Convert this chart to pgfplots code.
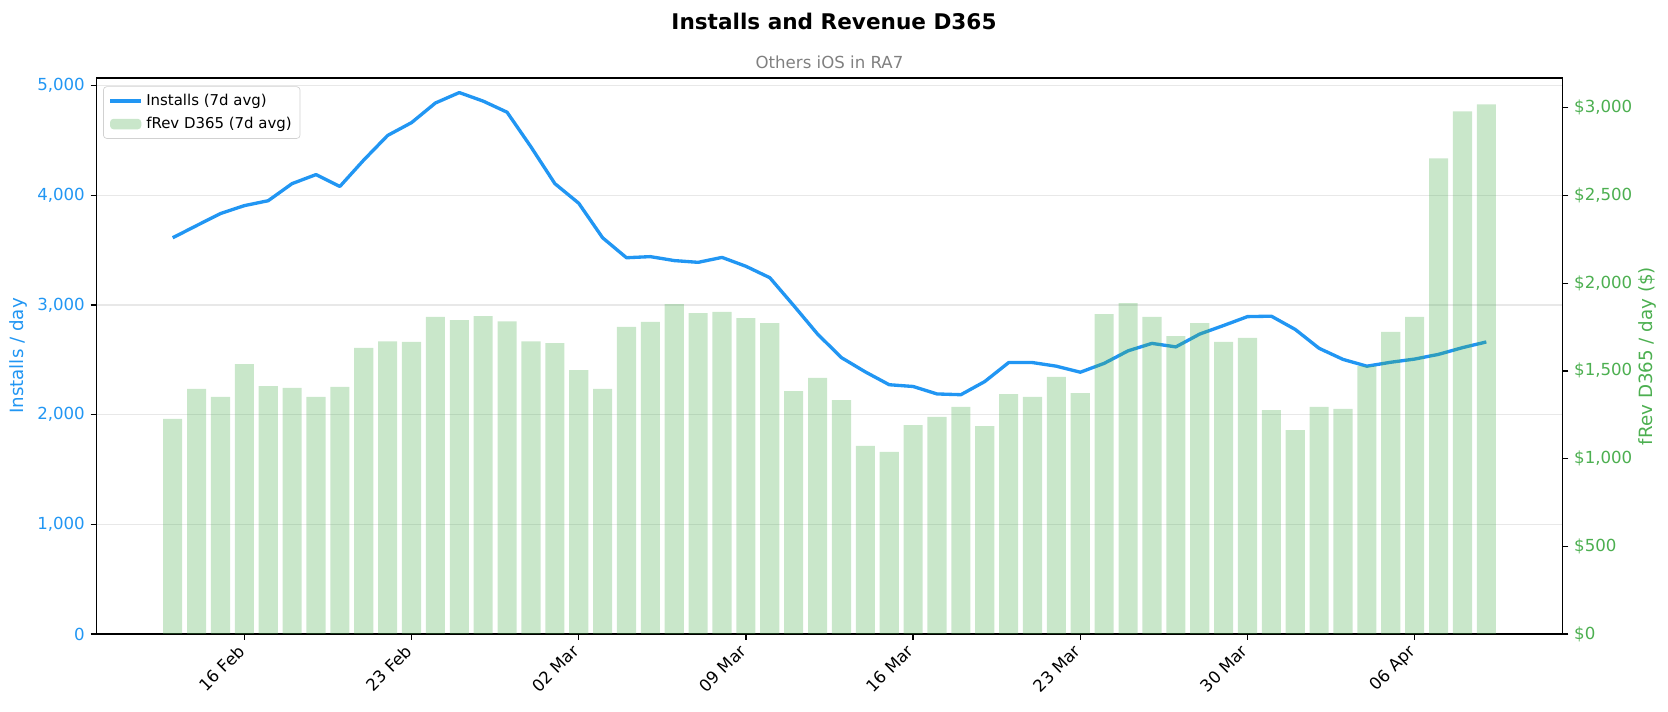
\documentclass[border=0pt]{standalone}
\usepackage{pgfplots}
\usepackage{pgfplotstable}
\pgfplotsset{compat=1.18}
\usepackage{fontspec}
\setmainfont{DejaVu Sans}
\definecolor{cblue}{HTML}{2196F3}
\definecolor{cgreen}{HTML}{4CAF50}
\definecolor{lgray}{HTML}{808080}

\pgfplotstableread{
x inst rev
0 3613 1226
1 3724 1397
2 3834 1352
3 3906 1539
4 3951 1413
5 4107 1403
6 4189 1352
7 4081 1409
8 4322 1631
9 4546 1669
10 4663 1665
11 4842 1808
12 4937 1789
13 4859 1812
14 4758 1783
15 4442 1669
16 4107 1659
17 3928 1505
18 3613 1397
19 3431 1751
20 3441 1779
21 3405 1881
22 3389 1830
23 3434 1836
24 3353 1801
25 3249 1773
26 2995 1385
27 2735 1460
28 2520 1334
29 2390 1072
30 2273 1039
31 2257 1191
32 2189 1238
33 2182 1295
34 2302 1185
35 2475 1368
36 2475 1352
37 2442 1466
38 2387 1374
39 2468 1824
40 2582 1887
41 2650 1808
42 2618 1698
43 2735 1773
44 2813 1665
45 2894 1688
46 2898 1277
47 2777 1163
48 2605 1295
49 2504 1283
50 2442 1527
51 2478 1722
52 2507 1808
53 2550 2712
54 2611 2979
55 2663 3019
}\data

\pgfplotsset{
  common/.style={
    at={(57.9bp,46.8bp)}, anchor=south west,
    scale only axis, width=879.6bp, height=333.6bp,
    xmin=-3.19, xmax=58.19, ymin=0,
    tick align=outside,
    major tick length=3.5bp,
    tick style={black, line width=0.8bp},
    axis line style={line width=0.8bp},
    ticklabel style={font=\fontsize{10}{12}\selectfont},
  }
}

\begin{document}
\begin{tikzpicture}
\useasboundingbox (0,0) rectangle (1000.8bp,427.2bp);
\node[font=\bfseries\fontsize{13}{16}\selectfont] at (500.4bp,414.6bp) {Installs and Revenue D365};
\node[font=\fontsize{10}{12}\selectfont, text=lgray] at (497.7bp,390bp) {Others iOS in RA7};

\begin{axis}[common,
  ymax=5070,
  xtick pos=bottom, ytick pos=left,
  xtick={3,10,17,24,31,38,45,52},
  xticklabels={16 Feb,23 Feb,02 Mar,09 Mar,16 Mar,23 Mar,30 Mar,06 Apr},
  xticklabel style={xshift=-4.5bp, rotate=45, anchor=north east, inner sep=1.5bp},
  ytick={0,1000,2000,3000,4000,5000},
  yticklabels={0,{1,000},{2,000},{3,000},{4,000},{5,000}},
  yticklabel style={text=cblue},
  ymajorgrids, major grid style={color=black!9, line width=0.8bp},
  ylabel={Installs / day},
  every axis y label/.style={at={(axis description cs:-0.0529,0.5)}, rotate=90, anchor=center, text=cblue, font=\fontsize{11}{13}\selectfont},
]
\addplot[cblue, line width=2bp, line join=round] table[x=x,y=inst]{\data};
\end{axis}

\begin{axis}[common,
  ymax=3170,
  axis x line=none, axis y line*=right,
  ytick={0,500,1000,1500,2000,2500,3000},
  yticklabels={\$0,\$500,{\$1,000},{\$1,500},{\$2,000},{\$2,500},{\$3,000}},
  yticklabel style={text=cgreen},
  ylabel={fRev D365 / day (\$)},
  every axis y label/.style={at={(axis description cs:1.0576,0.5)}, rotate=90, anchor=center, text=cgreen, font=\fontsize{11}{13}\selectfont},
  legend cell align=left,
  legend style={at={(axis description cs:0.0045,0.985)}, anchor=north west,
    draw=black!18, rounded corners=2bp, fill=white, fill opacity=0.8, text opacity=1,
    font=\fontsize{9}{11}\selectfont, inner xsep=3bp, inner ysep=2.5bp, row sep=1.5bp},
]
\addlegendimage{cblue, line width=2bp, legend image code/.code={\draw[cblue, line width=2bp] (0cm,0cm) -- (0.66cm,0cm);}}
\addlegendentry{Installs (7d avg)}
\addplot[ybar, bar width=0.8, bar shift=0pt, fill=cgreen, fill opacity=0.3, draw=none,
  legend image code/.code={\fill[cgreen, fill opacity=0.3] (0cm,-0.11cm) rectangle (0.66cm,0.11cm);}] table[x=x,y=rev]{\data};
\addlegendentry{fRev D365 (7d avg)}
\end{axis}
\end{tikzpicture}
\end{document}
